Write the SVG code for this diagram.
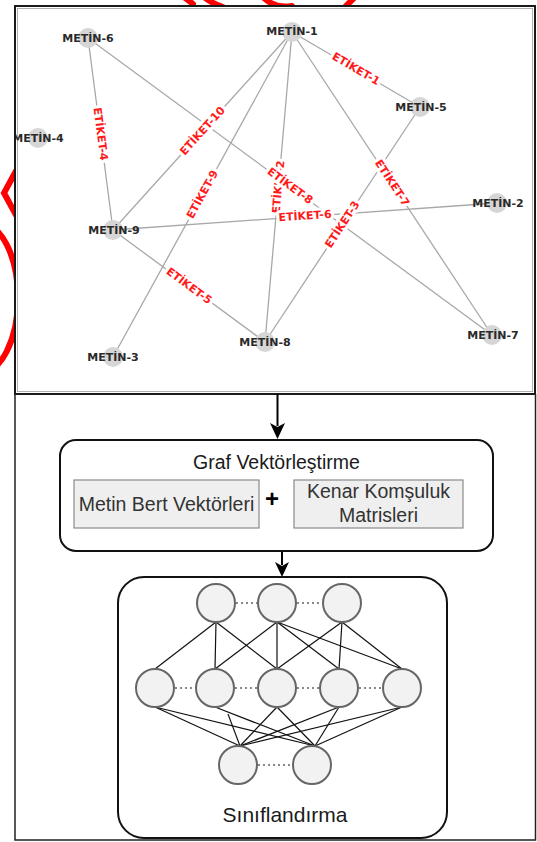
<svg xmlns="http://www.w3.org/2000/svg" width="537" height="842" viewBox="0 0 537 842">
<style>
.red{fill:none;stroke:#ff0000;stroke-width:6;stroke-linecap:round}
.edge{stroke:#a8a8a8;stroke-width:1.3}
.nd{fill:#d6d6d6}
.nl{font-family:"DejaVu Sans",sans-serif;font-weight:bold;font-size:11px;fill:#2a2a2a;text-anchor:middle}
.el{font-family:"DejaVu Sans",sans-serif;font-weight:bold;font-size:11px;fill:#ff1a1a;text-anchor:middle;dominant-baseline:central;stroke:#fff;stroke-width:6;stroke-linejoin:round;paint-order:stroke}
.box{fill:#fff;stroke:#111;stroke-width:2}
.sub{fill:#efefef;stroke:#8a8a8a;stroke-width:1.2}
.t{font-family:"Liberation Sans",Arial,sans-serif;font-size:19.5px;fill:#1a1a1a;text-anchor:middle}
.tg{font-family:"Liberation Sans",Arial,sans-serif;font-size:19.5px;fill:#333;text-anchor:middle}
.nn{fill:#f2f2f2;stroke:#666;stroke-width:2}
.nc{stroke:#111;stroke-width:1.2}
.dot{stroke:#888;stroke-width:2;stroke-dasharray:2 3}
.arr{stroke:#000;stroke-width:2}
</style>
<defs>
<clipPath id="gclip"><rect x="16" y="7" width="519" height="386"/></clipPath>
</defs>
<rect width="537" height="842" fill="#fff"/>
<g id="annotations">
<path class="red" d="M16,171 L4,193 L16,215"/>
<ellipse class="red" cx="-20" cy="298" rx="38" ry="75"/>
<path class="red" d="M184,-3 L193,4"/>
<path class="red" d="M204,-3 Q213,4 223,7"/>
<path class="red" d="M262,-4 Q274,9 292,6"/>
<path class="red" d="M356,-4 L344,8"/>
</g>
<g id="graph-frame">
<rect x="15" y="6" width="520" height="388" fill="#fff" stroke="#1a1a1a" stroke-width="2"/>
<rect x="17.5" y="8.5" width="515" height="383" fill="none" stroke="#b0b0b0" stroke-width="1"/>
</g>
<g id="lower-frame">
<path d="M15,394 L15,840 L535.5,840 L535.5,394" fill="none" stroke="#222" stroke-width="1.5"/>
</g>
<g clip-path="url(#gclip)">
<g id="graph-edges">
<line class="edge" x1="292" y1="32" x2="420" y2="107"/>
<line class="edge" x1="88" y1="38" x2="113" y2="230"/>
<line class="edge" x1="292" y1="32" x2="113" y2="230"/>
<line class="edge" x1="88" y1="38" x2="492" y2="335"/>
<line class="edge" x1="292" y1="32" x2="265" y2="342"/>
<line class="edge" x1="292" y1="32" x2="113" y2="357"/>
<line class="edge" x1="292" y1="32" x2="492" y2="335"/>
<line class="edge" x1="420" y1="107" x2="265" y2="342"/>
<line class="edge" x1="113" y1="230" x2="497" y2="203"/>
<line class="edge" x1="113" y1="230" x2="265" y2="342"/>
</g>
<g id="graph-nodes">
<g id="metin-1"><circle class="nd" cx="292" cy="32" r="10"/><text class="nl" x="292" y="35">METİN-1</text></g>
<g id="metin-2"><circle class="nd" cx="497" cy="203" r="10"/><text class="nl" x="498" y="207">METİN-2</text></g>
<g id="metin-3"><circle class="nd" cx="113" cy="357" r="10"/><text class="nl" x="113" y="361">METİN-3</text></g>
<g id="metin-4"><circle class="nd" cx="38" cy="138" r="10"/><text class="nl" x="38" y="142">METİN-4</text></g>
<g id="metin-5"><circle class="nd" cx="420" cy="107" r="10"/><text class="nl" x="421" y="111">METİN-5</text></g>
<g id="metin-6"><circle class="nd" cx="88" cy="38" r="10"/><text class="nl" x="88" y="42">METİN-6</text></g>
<g id="metin-7"><circle class="nd" cx="492" cy="335" r="10"/><text class="nl" x="493" y="339">METİN-7</text></g>
<g id="metin-8"><circle class="nd" cx="265" cy="342" r="10"/><text class="nl" x="265" y="346">METİN-8</text></g>
<g id="metin-9"><circle class="nd" cx="113" cy="230" r="10"/><text class="nl" x="114" y="234">METİN-9</text></g>
</g>
<g id="edge-labels">
<text class="el" transform="translate(356,69) rotate(30.4)">ETİKET-1</text>
<text class="el" transform="translate(100.5,134) rotate(82.6)">ETİKET-4</text>
<text class="el" transform="translate(202.5,131) rotate(-47.9)">ETİKET-10</text>
<text class="el" transform="translate(278.5,187) rotate(-85)">ETİKET-2</text>
<text class="el" transform="translate(290,186) rotate(36.3)">ETİKET-8</text>
<text class="el" transform="translate(202.5,194.5) rotate(-61.2)">ETİKET-9</text>
<text class="el" transform="translate(392,183) rotate(56.6)">ETİKET-7</text>
<text class="el" transform="translate(342.5,224.5) rotate(-56.6)">ETİKET-3</text>
<text class="el" transform="translate(305,216) rotate(-4)">ETİKET-6</text>
<text class="el" transform="translate(189,286) rotate(36.4)">ETİKET-5</text>
</g>
</g>
<g id="connectors">
<line class="arr" x1="277.5" y1="394" x2="277.5" y2="426"/>
<path d="M277.5,439 L270,423 L277.5,427 L285,423 Z" fill="#000"/>
<line class="arr" x1="282" y1="551" x2="282" y2="565"/>
<path d="M282,577 L275,562 L282,566 L289,562 Z" fill="#000"/>
</g>
<g id="graf-vektorlestirme">
<rect class="box" x="60" y="440" width="433" height="111" rx="16"/>
<text class="t" x="276.5" y="469">Graf Vektörleştirme</text>
<rect class="sub" x="74" y="480" width="185" height="48"/>
<text class="tg" x="166.5" y="511">Metin Bert Vektörleri</text>
<text x="272" y="507" font-family="'Liberation Sans',Arial,sans-serif" font-weight="bold" font-size="24" text-anchor="middle" fill="#000">+</text>
<rect class="sub" x="294" y="480" width="169" height="48"/>
<text class="tg" x="378.5" y="498">Kenar Komşuluk</text>
<text class="tg" x="378.5" y="522">Matrisleri</text>
</g>
<g id="siniflandirma">
<rect class="box" x="118" y="577" width="329" height="261" rx="26"/>
<g id="nn-links">
<line class="nc" x1="216" y1="622" x2="155" y2="669"/>
<line class="nc" x1="216" y1="622" x2="215" y2="669"/>
<line class="nc" x1="216" y1="622" x2="277" y2="669"/>
<line class="nc" x1="277" y1="622" x2="215" y2="669"/>
<line class="nc" x1="277" y1="622" x2="277" y2="669"/>
<line class="nc" x1="277" y1="622" x2="339" y2="669"/>
<line class="nc" x1="277" y1="622" x2="402" y2="669"/>
<line class="nc" x1="342" y1="622" x2="277" y2="669"/>
<line class="nc" x1="342" y1="622" x2="339" y2="669"/>
<line class="nc" x1="342" y1="622" x2="402" y2="669"/>
<line class="nc" x1="155" y1="707" x2="240" y2="746"/>
<line class="nc" x1="155" y1="707" x2="315" y2="746"/>
<line class="nc" x1="228" y1="714" x2="240" y2="746"/>
<line class="nc" x1="215" y1="707" x2="315" y2="746"/>
<line class="nc" x1="277" y1="707" x2="240" y2="746"/>
<line class="nc" x1="277" y1="707" x2="315" y2="746"/>
<line class="nc" x1="339" y1="707" x2="240" y2="746"/>
<line class="nc" x1="339" y1="707" x2="315" y2="746"/>
<line class="nc" x1="402" y1="707" x2="240" y2="746"/>
<line class="nc" x1="402" y1="707" x2="315" y2="746"/>
</g>
<g id="nn-dots">
<line class="dot" x1="236" y1="603" x2="257" y2="603"/>
<line class="dot" x1="297" y1="603" x2="322" y2="603"/>
<line class="dot" x1="175" y1="688" x2="195" y2="688"/>
<line class="dot" x1="235" y1="688" x2="257" y2="688"/>
<line class="dot" x1="297" y1="688" x2="319" y2="688"/>
<line class="dot" x1="359" y1="688" x2="382" y2="688"/>
<line class="dot" x1="258" y1="765" x2="292" y2="765"/>
</g>
<g id="nn-nodes">
<circle class="nn" cx="216" cy="603" r="19"/>
<circle class="nn" cx="277" cy="603" r="19"/>
<circle class="nn" cx="342" cy="603" r="19"/>
<circle class="nn" cx="155" cy="688" r="19"/>
<circle class="nn" cx="215" cy="688" r="19"/>
<circle class="nn" cx="277" cy="688" r="19"/>
<circle class="nn" cx="339" cy="688" r="19"/>
<circle class="nn" cx="402" cy="688" r="19"/>
<circle class="nn" cx="238" cy="765" r="19"/>
<circle class="nn" cx="312" cy="765" r="19"/>
</g>
<text x="285" y="822" font-family="'Liberation Sans',Arial,sans-serif" font-size="21" text-anchor="middle" fill="#1a1a1a">Sınıflandırma</text>
</g>
</svg>
